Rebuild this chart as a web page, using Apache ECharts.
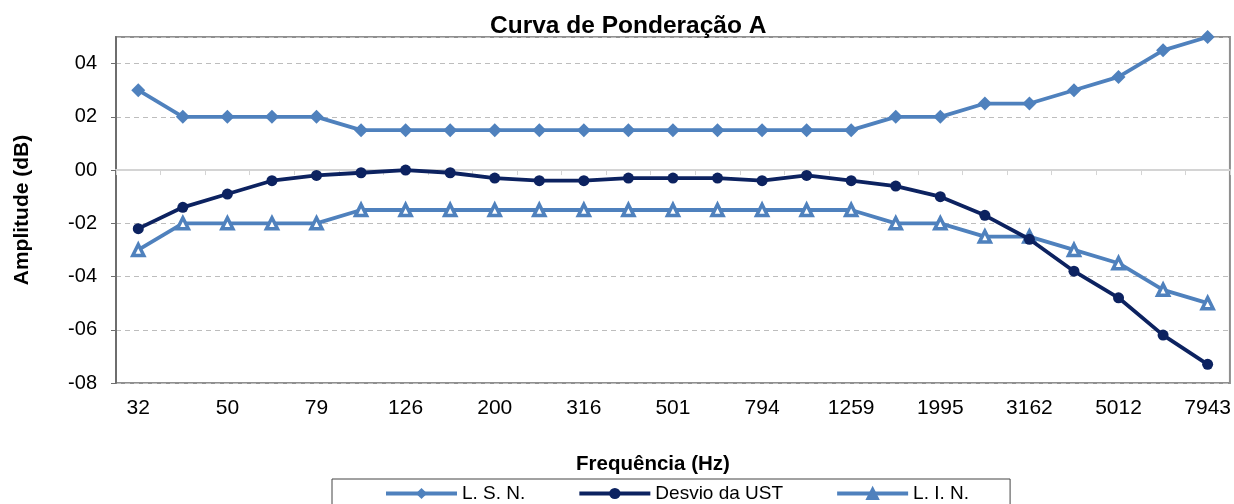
<!DOCTYPE html>
<html>
<head>
<meta charset="utf-8">
<script src="https://cdn.jsdelivr.net/npm/echarts@6/dist/echarts.min.js"></script>
<style>
  html, body { margin: 0; padding: 0; background: #ffffff; }
  #chart { width: 1234px; height: 504px; }
</style>
</head>
<body>
<div id="chart"></div>
<script>
// Frequency bands (Hz)
const frequencies = ['32', '40', '50', '63', '79', '100', '126', '158', '200', '251', '316', '398',
  '501', '631', '794', '1000', '1259', '1585', '1995', '2512', '3162', '3981', '5012', '6310', '7943'];

// Upper tolerance limit (dB)
const limiteSuperior = [3, 2, 2, 2, 2, 1.5, 1.5, 1.5, 1.5, 1.5, 1.5, 1.5,
  1.5, 1.5, 1.5, 1.5, 1.5, 2, 2, 2.5, 2.5, 3, 3.5, 4.5, 5];

// Measured deviation of the unit under test (dB)
const desvioUST = [-2.2, -1.4, -0.9, -0.4, -0.2, -0.1, 0.0, -0.1, -0.3, -0.4, -0.4, -0.3,
  -0.3, -0.3, -0.4, -0.2, -0.4, -0.6, -1.0, -1.7, -2.6, -3.8, -4.8, -6.2, -7.3];

// Lower tolerance limit (dB)
const limiteInferior = [-3, -2, -2, -2, -2, -1.5, -1.5, -1.5, -1.5, -1.5, -1.5, -1.5,
  -1.5, -1.5, -1.5, -1.5, -1.5, -2, -2, -2.5, -2.5, -3, -3.5, -4.5, -5];

const FONT = '"Liberation Sans", Arial, sans-serif';
const LIGHT = '#4f81bd';
const DARK = '#0c2260';
const TITLE = 'Curva de Ponderação A';
const TITLE_SIZE = 24.5;

function fmtTick(v) {
  const s = String(Math.abs(v)).padStart(2, '0');
  return (v < 0 ? '-' : '') + s;
}

// Title sits centred slightly right of the page centre
const ctx = document.createElement('canvas').getContext('2d');
ctx.font = 'bold ' + TITLE_SIZE + 'px "Liberation Sans"';
const titleWidth = ctx.measureText(TITLE).width;

const chart = echarts.init(document.getElementById('chart'));
chart.setOption({
  animation: false,
  backgroundColor: '#ffffff',
  title: {
    text: TITLE,
    left: Math.round(628.5 - titleWidth / 2),
    top: 14,
    padding: 0,
    textStyle: { fontFamily: FONT, fontSize: TITLE_SIZE, fontWeight: 'bold', color: '#000' }
  },
  grid: {
    left: 116, right: 4, top: 37, bottom: 121,
    show: true, borderColor: '#8f8f8f', borderWidth: 2, backgroundColor: '#ffffff'
  },
  legend: {
    left: 332,
    top: 479,
    padding: [5, 41, 12, 52],
    itemGap: 52,
    itemWidth: 71,
    itemHeight: 14,
    borderColor: '#444',
    borderWidth: 1,
    lineStyle: { width: 4 },
    textStyle: { fontFamily: FONT, fontSize: 19, color: '#000' },
    data: [
      { name: 'L. S. N.' },
      { name: 'Desvio da UST' },
      { name: 'L. I. N.', itemStyle: { color: LIGHT, borderColor: LIGHT } }
    ]
  },
  xAxis: [
    {
      type: 'category',
      data: frequencies,
      boundaryGap: true,
      position: 'bottom',
      axisLine: { onZero: false, show: false },
      axisTick: { show: false },
      axisLabel: {
        interval: 1, margin: 15,
        fontFamily: FONT, fontSize: 21, color: '#000'
      },
      name: 'Frequência (Hz)',
      nameLocation: 'middle',
      nameGap: 71,
      nameTextStyle: {
        fontFamily: FONT, fontSize: 20.5, fontWeight: 'bold', color: '#000',
        padding: [0, 40, 0, 0]
      }
    },
    {
      type: 'category',
      data: frequencies,
      boundaryGap: true,
      position: 'bottom',
      axisLine: { onZero: true, lineStyle: { color: '#d4d4d4', width: 2 } },
      axisTick: { show: true, interval: 0, length: 5, lineStyle: { color: '#d4d4d4', width: 1 } },
      axisLabel: { show: false }
    }
  ],
  yAxis: {
    type: 'value',
    min: -8,
    max: 5,
    interval: 2,
    name: 'Amplitude (dB)',
    nameLocation: 'middle',
    nameGap: 83,
    nameRotate: 90,
    nameTextStyle: { fontFamily: FONT, fontSize: 21, fontWeight: 'bold', color: '#000' },
    axisLine: { show: true, lineStyle: { color: '#6e6e6e', width: 2 } },
    axisTick: { show: true, length: 5, lineStyle: { color: '#6e6e6e' } },
    axisLabel: {
      margin: 19, fontFamily: FONT, fontSize: 20, color: '#000',
      showMaxLabel: false,
      formatter: fmtTick
    },
    splitLine: { show: true, lineStyle: { color: '#bdbdbd', type: [5, 4], width: 1 } }
  },
  series: [
    {
      name: 'L. S. N.',
      type: 'line',
      data: limiteSuperior,
      symbol: 'diamond',
      symbolSize: 14,
      lineStyle: { color: LIGHT, width: 3.8 },
      itemStyle: { color: LIGHT },
      z: 3
    },
    {
      name: 'Desvio da UST',
      type: 'line',
      data: desvioUST,
      symbol: 'circle',
      symbolSize: 11,
      lineStyle: { color: DARK, width: 3.8 },
      itemStyle: { color: DARK },
      z: 4
    },
    {
      name: 'L. I. N.',
      type: 'line',
      data: limiteInferior,
      symbol: 'triangle',
      symbolSize: 11,
      lineStyle: { color: LIGHT, width: 3.8 },
      itemStyle: { color: '#ffffff', borderColor: LIGHT, borderWidth: 3.5 },
      z: 3
    }
  ]
});
</script>
</body>
</html>
